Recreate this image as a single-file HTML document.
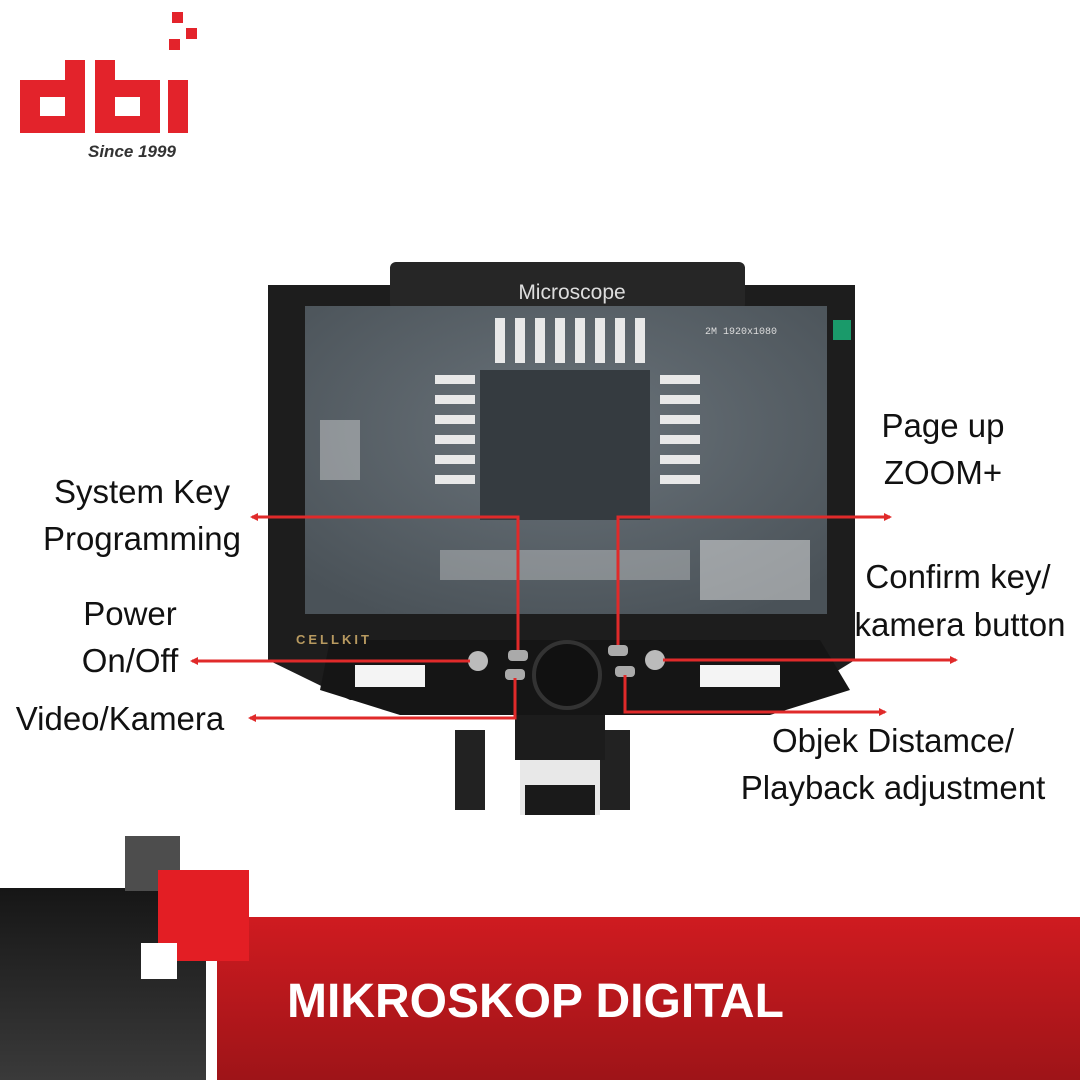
<!DOCTYPE html>
<html><head><style>
body{margin:0;width:1080px;height:1080px;overflow:hidden;background:#fff}
svg{display:block}
</style></head><body>
<svg width="1080" height="1080" viewBox="0 0 1080 1080" xmlns="http://www.w3.org/2000/svg">
<defs>
<linearGradient id="dk" x1="0" y1="0" x2="0" y2="1"><stop offset="0" stop-color="#161616"/><stop offset="1" stop-color="#3a3a3a"/></linearGradient>
<linearGradient id="rd" x1="0" y1="0" x2="0" y2="1"><stop offset="0" stop-color="#cf1b20"/><stop offset="1" stop-color="#9e1418"/></linearGradient>
<radialGradient id="scr" cx="0.5" cy="0.4" r="0.7"><stop offset="0" stop-color="#6a737a"/><stop offset="1" stop-color="#4a5258"/></radialGradient>
<marker id="ar" markerWidth="8" markerHeight="8" refX="6" refY="4" orient="auto" markerUnits="userSpaceOnUse"><path d="M0,0 L8,4 L0,8 z" fill="#e02a2a"/></marker>
</defs>
<g fill="#e3232b">
<rect x="172" y="12" width="11" height="11"/><rect x="186" y="28" width="11" height="11"/><rect x="169" y="39" width="11" height="11"/>
<path d="M20 80 H65 V60 H85 V133 H20 Z M40 97 V116 H65 V97 Z" fill-rule="evenodd"/>
<path d="M95 60 H115 V80 H160 V133 H95 Z M115 97 V116 H140 V97 Z" fill-rule="evenodd"/>
<rect x="168" y="80" width="20" height="53"/>
</g>
<text x="88" y="157" font-family="Liberation Sans,sans-serif" font-style="italic" font-weight="bold" font-size="17" fill="#333">Since 1999</text>
<rect x="455" y="730" width="30" height="80" fill="#222"/>
<rect x="600" y="730" width="30" height="80" fill="#222"/>
<rect x="515" y="700" width="90" height="60" fill="#1c1c1c"/>
<rect x="520" y="760" width="80" height="55" fill="#e8e8e8"/>
<rect x="525" y="785" width="70" height="30" fill="#1a1a1a"/>
<path d="M268 285 H855 V660 L790 700 L690 700 L670 660 L470 660 L450 700 L350 700 L268 660 Z" fill="#1d1d1d"/>
<path d="M330 640 H820 L850 690 L770 715 H400 L320 690 Z" fill="#151515"/>
<rect x="355" y="665" width="70" height="22" fill="#f4f4f4"/><rect x="700" y="665" width="80" height="22" fill="#f4f4f4"/>
<rect x="390" y="262" width="355" height="48" rx="6" fill="#262626"/>
<text x="572" y="299" text-anchor="middle" font-family="Liberation Sans,sans-serif" font-size="21" fill="#ddd">Microscope</text>
<rect x="305" y="306" width="522" height="308" fill="url(#scr)"/>
<rect x="480" y="370" width="170" height="150" fill="#353b40"/>
<g fill="#e8e8e8">
<rect x="495" y="318" width="10" height="45"/><rect x="515" y="318" width="10" height="45"/><rect x="535" y="318" width="10" height="45"/><rect x="555" y="318" width="10" height="45"/><rect x="575" y="318" width="10" height="45"/><rect x="595" y="318" width="10" height="45"/><rect x="615" y="318" width="10" height="45"/><rect x="635" y="318" width="10" height="45"/>
<rect x="435" y="375" width="40" height="9"/><rect x="435" y="395" width="40" height="9"/><rect x="435" y="415" width="40" height="9"/><rect x="435" y="435" width="40" height="9"/><rect x="435" y="455" width="40" height="9"/><rect x="435" y="475" width="40" height="9"/>
<rect x="660" y="375" width="40" height="9"/><rect x="660" y="395" width="40" height="9"/><rect x="660" y="415" width="40" height="9"/><rect x="660" y="435" width="40" height="9"/><rect x="660" y="455" width="40" height="9"/><rect x="660" y="475" width="40" height="9"/>
<rect x="700" y="540" width="110" height="60" opacity="0.5"/><rect x="320" y="420" width="40" height="60" opacity="0.4"/>
<rect x="440" y="550" width="250" height="30" opacity="0.35"/>
</g>
<text x="705" y="334" font-family="Liberation Mono,monospace" font-size="10" fill="#ddd">2M 1920x1080</text>
<rect x="833" y="320" width="18" height="20" fill="#1a9a6a"/>
<text x="296" y="644" font-family="Liberation Sans,sans-serif" font-weight="bold" font-size="13" fill="#b89a60" letter-spacing="3">CELLKIT</text>
<circle cx="567" cy="675" r="33" fill="#111" stroke="#333" stroke-width="4"/>
<circle cx="478" cy="661" r="10" fill="#bbb"/><circle cx="655" cy="660" r="10" fill="#bbb"/>
<rect x="508" y="650" width="20" height="11" rx="4" fill="#aaa"/><rect x="505" y="669" width="20" height="11" rx="4" fill="#aaa"/>
<rect x="608" y="645" width="20" height="11" rx="4" fill="#aaa"/><rect x="615" y="666" width="20" height="11" rx="4" fill="#aaa"/>
<g stroke="#e02a2a" stroke-width="3" fill="none">
<path d="M518 650 V517 H252" marker-end="url(#ar)"/>
<path d="M618 645 V517 H890" marker-end="url(#ar)"/>
<path d="M470 661 H192" marker-end="url(#ar)"/>
<path d="M663 660 H956" marker-end="url(#ar)"/>
<path d="M515 678 V718 H250" marker-end="url(#ar)"/>
<path d="M625 675 V712 H885" marker-end="url(#ar)"/>
</g>
<g font-family="Liberation Sans,sans-serif" font-size="33" fill="#111">
<text x="142" y="503" text-anchor="middle">System Key</text>
<text x="142" y="550" text-anchor="middle">Programming</text>
<text x="130" y="625" text-anchor="middle">Power</text>
<text x="130" y="672" text-anchor="middle">On/Off</text>
<text x="120" y="730" text-anchor="middle">Video/Kamera</text>
<text x="943" y="437" text-anchor="middle">Page up</text>
<text x="943" y="484" text-anchor="middle">ZOOM+</text>
<text x="958" y="588" text-anchor="middle">Confirm key/</text>
<text x="960" y="636" text-anchor="middle">kamera button</text>
<text x="893" y="752" text-anchor="middle">Objek Distamce/</text>
<text x="893" y="799" text-anchor="middle">Playback adjustment</text>
</g>
<rect x="0" y="888" width="206" height="192" fill="url(#dk)"/>
<rect x="217" y="917" width="863" height="163" fill="url(#rd)"/>
<rect x="125" y="836" width="55" height="55" fill="#4d4d4d"/>
<rect x="158" y="870" width="91" height="91" fill="#e31e24"/>
<rect x="141" y="943" width="36" height="36" fill="#fff"/>
<text x="287" y="1017" font-family="Liberation Sans,sans-serif" font-weight="bold" font-size="48" fill="#fff">MIKROSKOP DIGITAL</text>
</svg>
</body></html>
